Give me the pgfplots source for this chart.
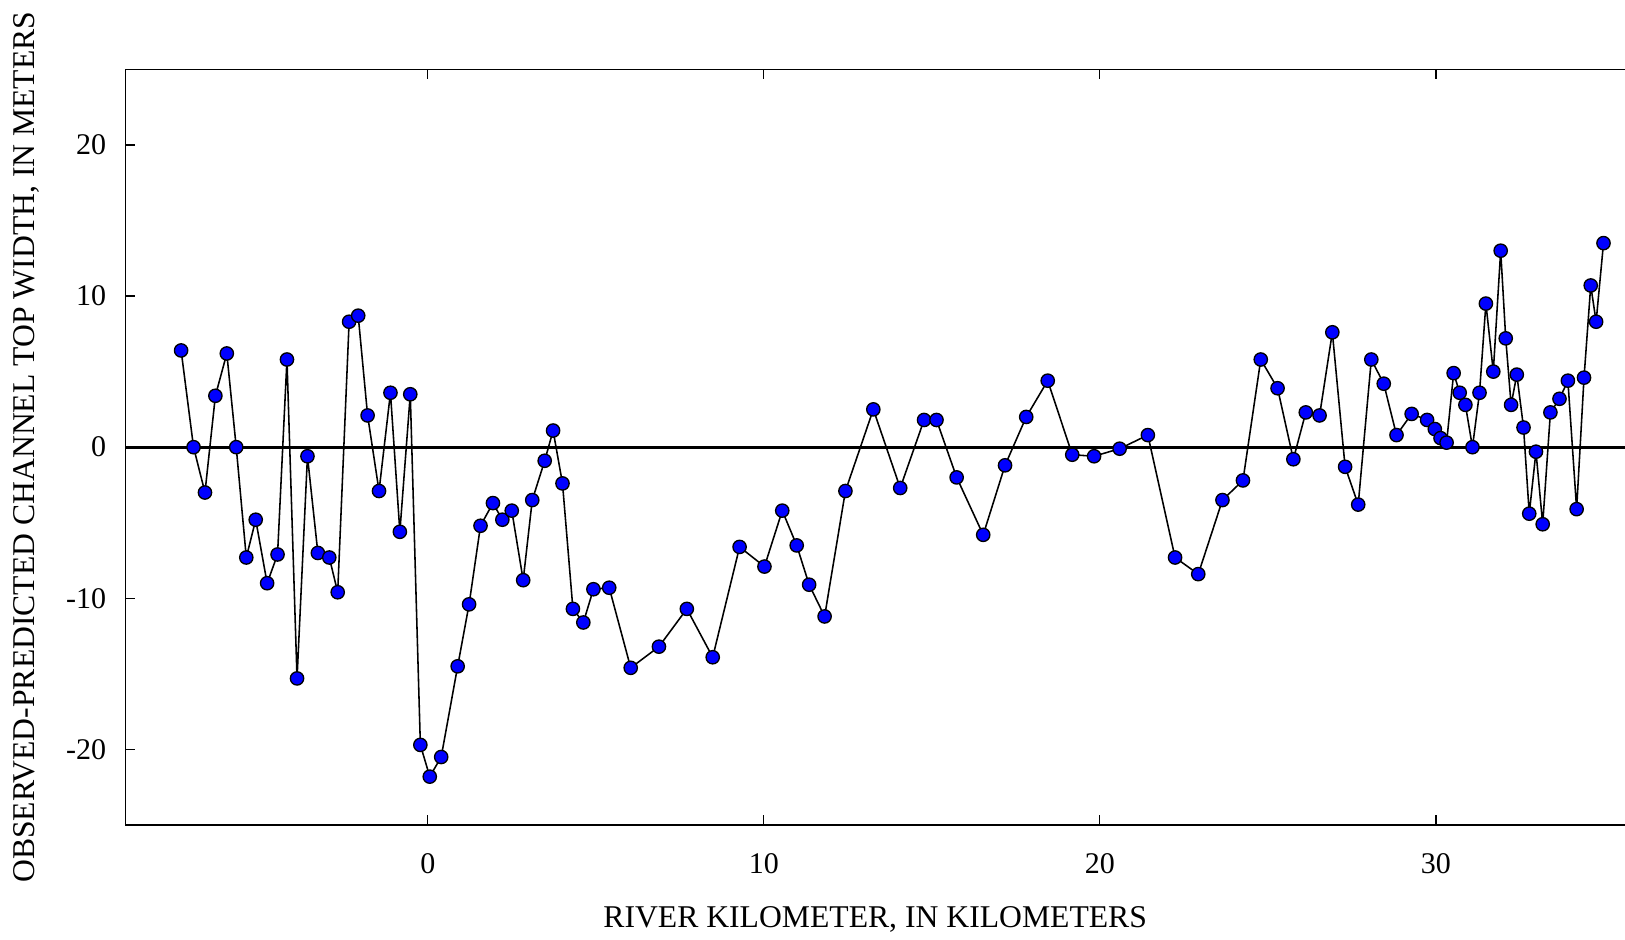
\documentclass[border=0pt]{standalone}
\usepackage{fontspec}
\setmainfont{Liberation Serif}
\usepackage{pgfplots}
\usepackage{pgfplotstable}
\pgfplotsset{compat=1.18}

% observed minus predicted top width along the river
\pgfplotstableread{
km     diff
-7.34   6.4
-6.97   0.0
-6.63  -3.0
-6.32   3.4
-5.98   6.2
-5.70   0.0
-5.40  -7.3
-5.12  -4.8
-4.78  -9.0
-4.47  -7.1
-4.19   5.8
-3.89 -15.3
-3.58  -0.6
-3.27  -7.0
-2.93  -7.3
-2.68  -9.6
-2.34   8.3
-2.07   8.7
-1.79   2.1
-1.45  -2.9
-1.11   3.6
-0.83  -5.6
-0.52   3.5
-0.22 -19.7
 0.06 -21.8
 0.40 -20.5
 0.89 -14.5
 1.23 -10.4
 1.57  -5.2
 1.94  -3.7
 2.22  -4.8
 2.50  -4.2
 2.84  -8.8
 3.11  -3.5
 3.48  -0.9
 3.73   1.1
 4.01  -2.4
 4.32 -10.7
 4.63 -11.6
 4.93  -9.4
 5.40  -9.3
 6.04 -14.6
 6.88 -13.2
 7.71 -10.7
 8.48 -13.9
 9.28  -6.6
10.02  -7.9
10.55  -4.2
10.98  -6.5
11.35  -9.1
11.81 -11.2
12.43  -2.9
13.26   2.5
14.06  -2.7
14.77   1.8
15.14   1.8
15.74  -2.0
16.53  -5.8
17.18  -1.2
17.81   2.0
18.45   4.4
19.18  -0.5
19.83  -0.6
20.59  -0.1
21.43   0.8
22.24  -7.3
22.93  -8.4
23.65  -3.5
24.26  -2.2
24.79   5.8
25.29   3.9
25.76  -0.8
26.13   2.3
26.54   2.1
26.92   7.6
27.30  -1.3
27.69  -3.8
28.08   5.8
28.45   4.2
28.83   0.8
29.28   2.2
29.74   1.8
29.97   1.2
30.14   0.6
30.32   0.3
30.53   4.9
30.71   3.6
30.88   2.8
31.09   0.0
31.30   3.6
31.49   9.5
31.71   5.0
31.93  13.0
32.08   7.2
32.24   2.8
32.41   4.8
32.61   1.3
32.78  -4.4
32.98  -0.3
33.18  -5.1
33.41   2.3
33.68   3.2
33.93   4.4
34.19  -4.1
34.41   4.6
34.61  10.7
34.77   8.3
34.99  13.5
}\widthdata

\begin{document}
\begin{tikzpicture}
\begin{axis}[
    at={(0pt,0pt)}, anchor=south west,
    width=449.9pt, height=226.7pt, scale only axis,
    xmin=-9, xmax=35.63, ymin=-25, ymax=25,
    axis y line*=left,
    xtick={0,10,20,30},
    ytick={-20,-10,0,10,20},
    tick align=inside,
    major tick length=3pt,
    tick style={black, line width=0.4pt},
    axis line style={line width=0.4pt},
    /pgf/number format/assume math mode=true,
    tick label style={font=\fontsize{9}{10}\selectfont},
    xticklabel style={yshift=-5pt},
    yticklabel style={xshift=-2.2pt},
    xlabel={RIVER KILOMETER, IN KILOMETERS},
    ylabel={OBSERVED-PREDICTED CHANNEL TOP WIDTH, IN METERS},
    label style={font=\fontsize{9.5}{11}\selectfont},
    xlabel style={at={(axis description cs:0.5,-0.1244)}, anchor=center},
    ylabel style={at={(axis description cs:-0.0662,0.5)}, anchor=center},
    clip=false,
]
\addplot[black, line width=1pt] coordinates {(-9,0) (35.63,0)};
\addplot[black, line width=0.47pt, mark=*, mark size=2pt,
    mark options={fill=blue, draw=black, line width=0.4pt}]
    table[x=km, y=diff] {\widthdata};
\end{axis}
\pgfresetboundingbox
\useasboundingbox (-37.6pt,-34.2pt) rectangle (449.9pt,247.5pt);
\end{tikzpicture}
\end{document}
